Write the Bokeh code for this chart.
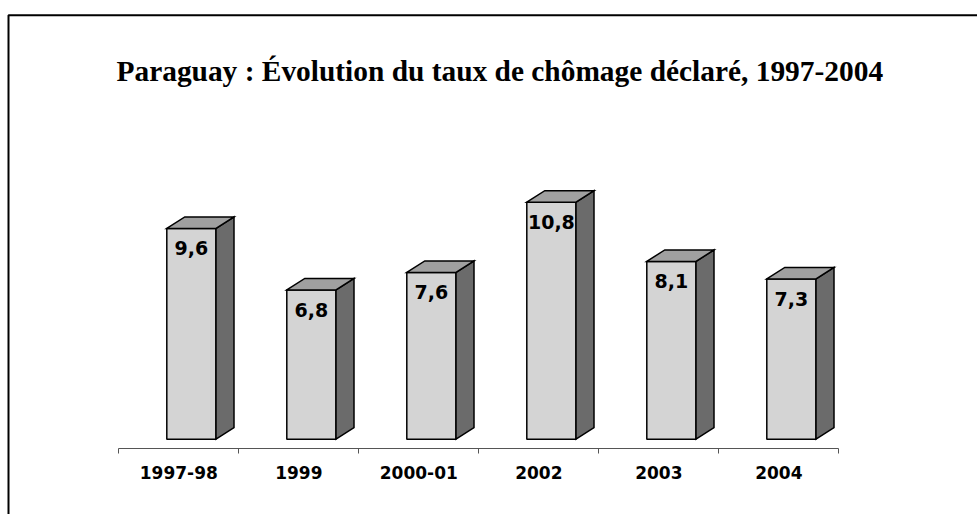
from bokeh.plotting import figure
from bokeh.models import Range1d, FixedTicker, LinearAxis
from bokeh.core.properties import value
from bokeh.embed import file_html
from bokeh.resources import INLINE

# ---- data ----
categories = ["1997-98", "1999", "2000-01", "2002", "2003", "2004"]
rates = [9.6, 6.8, 7.6, 10.8, 8.1, 7.3]
rate_labels = ["9,6", "6,8", "7,6", "10,8", "8,1", "7,3"]
title_text = "Paraguay : Évolution du taux de chômage déclaré, 1997-2004"

# ---- layout constants (pixels) ----
W, H = 977, 514
X_ORIGIN = 118.3      # pixel of first category boundary
CAT_PX = 120.0        # pixels per category
Y_ZERO = 438.7        # pixel of value 0
PX = 21.95            # pixels per unit of rate
AXIS_PIX = 448.3      # pixel row of the category axis line
n = len(categories)


def xd(px):
    return (px - X_ORIGIN) / CAT_PX


def yd(py):
    return (Y_ZERO - py) / PX


p = figure(width=W, height=H, title=None,
           x_range=Range1d(xd(0), xd(W)), y_range=Range1d(yd(H), yd(0)),
           output_backend="svg", toolbar_location=None,
           x_axis_type=None, y_axis_type=None,
           min_border=0, min_border_left=0, min_border_right=0,
           min_border_top=0, min_border_bottom=0)
p.grid.visible = False
p.outline_line_color = None
p.background_fill_color = "white"
p.border_fill_color = "white"

# outer border (top and left edges visible, the rest runs off the page)
p.quad(left=[xd(8)], right=[xd(W + 20)], top=[yd(14.7)], bottom=[yd(H + 20)],
       fill_alpha=0, line_color="black", line_width=2)

# title
p.text(x=[xd(116)], y=[yd(70.7)], text=[title_text],
       text_font=value("Liberation Serif"), text_font_style="bold",
       text_font_size="29.4px", text_align="left", text_baseline="alphabetic",
       text_color="black")

# x axis: labels at category centres, ticks at category boundaries
ax = LinearAxis(ticker=FixedTicker(ticks=[i + 0.5 for i in range(n)],
                                   minor_ticks=list(range(n + 1))),
                fixed_location=yd(AXIS_PIX), bounds=(0, n))
ax.major_label_overrides = {i + 0.5: c for i, c in enumerate(categories)}
ax.major_tick_out = 0
ax.major_tick_in = 0
ax.minor_tick_out = 5
ax.minor_tick_in = 0
ax.minor_tick_line_color = "#555555"
ax.axis_line_color = "#555555"
ax.axis_line_width = 1
ax.major_label_text_font = "DejaVu Sans"
ax.major_label_text_font_style = "bold"
ax.major_label_text_font_size = "17px"
ax.major_label_text_color = "black"
ax.major_label_standoff = 12
p.add_layout(ax, "below")

# 3D bars
FL, FW = 0.40, 0.41
DX, DY = 18 / CAT_PX, 11.5 / PX
lefts = [i + FL for i in range(n)]
rights = [l + FW for l in lefts]

p.quad(left=lefts, right=rights, bottom=0, top=rates,
       fill_color="#d4d4d4", line_color="black", line_width=1.5)

p.text(x=[(l + r) / 2 for l, r in zip(lefts, rights)],
       y=[v - 20 / PX for v in rates], text=rate_labels,
       text_font=value("DejaVu Sans"), text_font_style="bold",
       text_font_size="19px", text_align="center", text_baseline="middle",
       text_color="black")

side_xs = [[r, r + DX, r + DX, r] for r in rights]
side_ys = [[0, DY, v + DY, v] for v in rates]
p.patches(side_xs, side_ys, fill_color="#6b6b6b", line_color="black",
          line_width=1.5, line_join="miter")

top_xs = [[l, l + DX, r + DX, r] for l, r in zip(lefts, rights)]
top_ys = [[v, v + DY, v + DY, v] for v in rates]
p.patches(top_xs, top_ys, fill_color="#a0a0a0", line_color="black",
          line_width=1.5, line_join="miter")

open("out.html", "w").write(file_html(p, INLINE))
